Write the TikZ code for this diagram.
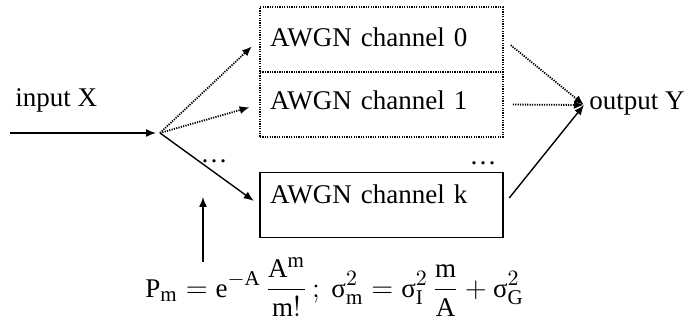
\documentclass[tikz,border=0pt]{standalone}
\usepackage{fontspec}
\setmainfont{Liberation Serif}
\DeclareMathSizes{13.5}{13.5}{10.5}{8}
\usetikzlibrary{arrows.meta, positioning}
\tikzset{
  channel/.style={rectangle, draw=black, line width=0.6pt, minimum width=121.5pt, minimum height=32.5pt, text width=111.5pt, inner xsep=5pt, align=left},
  dottedbox/.style={channel, line width=0.8pt, dash pattern=on 0.6pt off 0.6pt},
  label/.style={inner sep=0pt},
  arrow/.style={line width=0.7pt, -{Latex[length=5pt, width=4pt]}},
  dotarrow/.style={arrow, line width=0.9pt, dash pattern=on 0.6pt off 0.6pt}
}
\begin{document}
\begin{tikzpicture}[x=0.5pt, y=-0.5pt, font=\fontsize{13.5}{16}\selectfont]
\useasboundingbox (0,0) rectangle (687,320);

% channels
\node (ch0) [dottedbox, text depth=2pt] at (381.5,39.5) {AWGN channel 0};
\node (ch1) [dottedbox, text depth=4pt] at (381.5,104.5) {AWGN channel 1};
\node (chk) [channel, text depth=10.5pt] at (381.5,205) {AWGN channel k};
\node (dotsl) [label] at (214,161) {\dots};
\node (dotsr) [label] at (483,163) {\dots};

% input and output
\coordinate (in) at (10,133);
\coordinate (split) at (160,133);
\coordinate (merge) at (584,105);
\node (inlabel) [label, anchor=west] at (15,100) {input X};
\node (outlabel) [label, anchor=west] at (589,104) {output Y};

% switching probabilities
\node (pmf) [label, anchor=west] at (145,287) {$\displaystyle \mathrm{P_m} = \mathrm{e}^{\mathbf{-}\mathrm{A}}\,\frac{\mathrm{A^m}}{\mathrm{m!}}\,;\ \mbox{σ}_\mathrm{m}^2 = \mbox{σ}_\mathrm{I}^2\,\frac{\mathrm{m}}{\mathrm{A}} + \mbox{σ}_\mathrm{G}^2$};
\coordinate (param) at (203,262);
\coordinate (hit) at (203,197);

\draw [arrow, shorten >=2pt] (in) -- (split);
\draw [dotarrow, shorten >=5pt] (split) -- (ch0.west);
\draw [dotarrow, shorten >=5pt] (split) -- (ch1.west);
\draw [arrow, shorten >=3.5pt] (split) -- (chk.west);

\draw [dotarrow, shorten <=4.5pt] (ch0.east) -- (merge);
\draw [dotarrow, shorten <=4.5pt] (ch1.east) -- (merge);
\draw [arrow, shorten <=4.5pt] (chk.east) -- (merge);

\draw [arrow] (param) -- (hit);

\end{tikzpicture}
\end{document}
